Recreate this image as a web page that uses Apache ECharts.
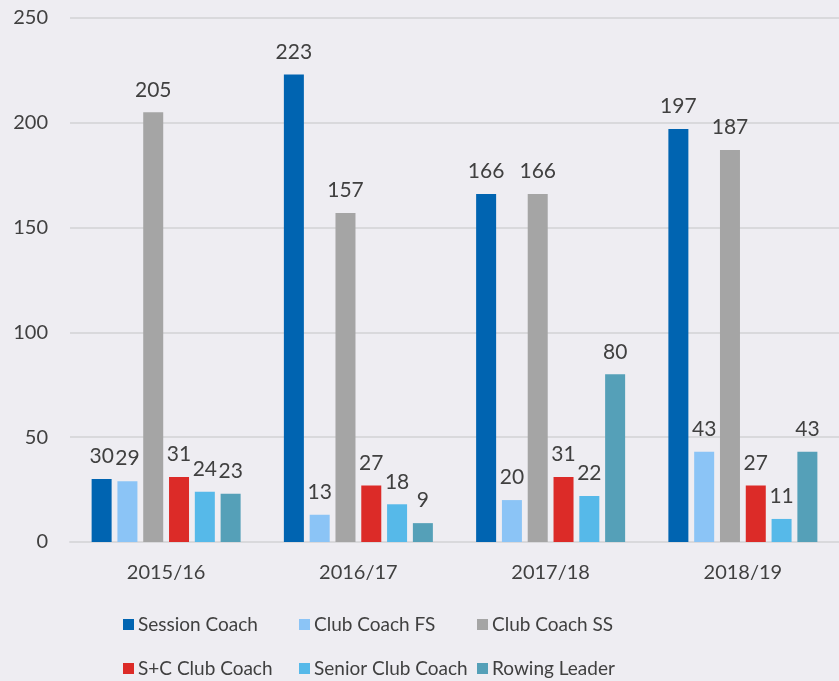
<!DOCTYPE html>
<html>
<head>
<meta charset="utf-8">
<script src="https://cdn.jsdelivr.net/npm/echarts@6/dist/echarts.min.js"></script>
<style>
  html, body { margin: 0; padding: 0; background: #EEEDF2; }
  #chart { width: 839px; height: 681px; }
</style>
</head>
<body>
<div id="chart"></div>
<script>
// data
const seasons = ['2015/16', '2016/17', '2017/18', '2018/19']
const sessionCoach = [30, 223, 166, 197]
const clubCoachFS = [29, 13, 20, 43]
const clubCoachSS = [205, 157, 166, 187]
const scClubCoach = [31, 27, 31, 27]
const seniorClubCoach = [24, 18, 22, 11]
const rowingLeader = [23, 9, 80, 43]
const yTicks = [0, 50, 100, 150, 200, 250]

const seriesDefs = [
  { name: 'Session Coach', data: sessionCoach, color: '#0064B1' },
  { name: 'Club Coach FS', data: clubCoachFS, color: '#8BC4F6' },
  { name: 'Club Coach SS', data: clubCoachSS, color: '#A5A5A5' },
  { name: 'S+C Club Coach', data: scClubCoach, color: '#DC2B28' },
  { name: 'Senior Club Coach', data: seniorClubCoach, color: '#56B9E9' },
  { name: 'Rowing Leader', data: rowingLeader, color: '#55A0B8' }
]

const textColor = '#404040'
const font = 'Lato'

// legend laid out as a 3 x 2 grid
const legendCols = [123, 299, 477]
const legendRows = [615, 659]

let chart = echarts.init(document.getElementById('chart'))

let option = {
  backgroundColor: '#EEEDF2',
  textStyle: { fontFamily: font, color: textColor },
  grid: {
    left: 70,
    width: 775,
    top: 18,
    bottom: 139
  },
  legend: seriesDefs.map((s, i) => ({
    data: [s.name],
    left: legendCols[i % 3],
    top: legendRows[Math.floor(i / 3)],
    padding: 0,
    itemWidth: 11,
    itemHeight: 11,
    icon: 'rect',
    textStyle: { fontFamily: font, fontSize: 19, color: textColor, padding: [0, 0, 0, -1] }
  })),
  xAxis: {
    type: 'category',
    data: seasons,
    axisTick: { show: false },
    axisLine: { lineStyle: { color: '#D9D9DC', width: 2 } },
    axisLabel: { fontFamily: font, fontSize: 20, color: textColor, margin: 21 }
  },
  yAxis: {
    type: 'value',
    min: yTicks[0],
    max: yTicks[yTicks.length - 1],
    interval: 50,
    axisLine: { show: false },
    axisTick: { show: false },
    splitLine: { lineStyle: { color: '#D9D9DC', width: 2 } },
    axisLabel: { fontFamily: font, fontSize: 20, color: textColor, margin: 22 }
  },
  series: seriesDefs.map(s => ({
    name: s.name,
    type: 'bar',
    data: s.data,
    barWidth: 20,
    barGap: '29%',
    itemStyle: { color: s.color },
    label: {
      show: true,
      position: 'top',
      distance: 12,
      fontFamily: font,
      fontSize: 21,
      color: textColor
    }
  }))
}

if (option && typeof option === 'object') {
  chart.setOption(option, true)
}
</script>
</body>
</html>
